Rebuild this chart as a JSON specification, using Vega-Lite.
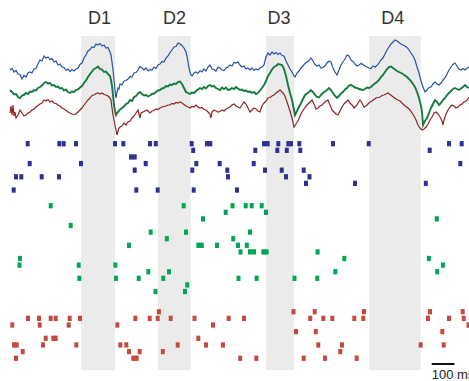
{
"$schema": "https://vega.github.io/schema/vega-lite/v6.json",
"width": 469, "height": 381, "padding": 0, "autosize": {"type": "none"},
"background": "white",
"config": {"view": {"stroke": null}},
"datasets": {
"bands": [
{"label":"D1","t0":81,"t1":115,"tc":99.5,"vtop":64,"vbot":-270,"vlab":76},
{"label":"D2","t0":158,"t1":190.7,"tc":174.6,"vtop":64,"vbot":-270,"vlab":76},
{"label":"D3","t0":266,"t1":294,"tc":279,"vtop":64,"vbot":-270,"vlab":76},
{"label":"D4","t0":369,"t1":420.7,"tc":392.8,"vtop":64,"vbot":-270,"vlab":76}
],
"traces": [
{"s":"b","t":10,"v":30},{"s":"b","t":12,"v":31.5},{"s":"b","t":14,"v":28},{"s":"b","t":16,"v":29.5},{"s":"b","t":18,"v":26},{"s":"b","t":20,"v":25.5},{"s":"b","t":22,"v":21},{"s":"b","t":24,"v":24.5},{"s":"b","t":26,"v":23},{"s":"b","t":28,"v":27},{"s":"b","t":30,"v":28},{"s":"b","t":32,"v":27},{"s":"b","t":34,"v":31},{"s":"b","t":36,"v":31.5},{"s":"b","t":38,"v":36},{"s":"b","t":40,"v":40},{"s":"b","t":42,"v":39},{"s":"b","t":44,"v":44},{"s":"b","t":46,"v":42},{"s":"b","t":48,"v":43},{"s":"b","t":50,"v":40.5},{"s":"b","t":52,"v":41.5},{"s":"b","t":54,"v":38},{"s":"b","t":56,"v":39},{"s":"b","t":58,"v":35},{"s":"b","t":60,"v":36},{"s":"b","t":62,"v":33},{"s":"b","t":64,"v":32.5},{"s":"b","t":66,"v":29.5},{"s":"b","t":68,"v":31},{"s":"b","t":70,"v":28.5},{"s":"b","t":72,"v":30.5},{"s":"b","t":74,"v":29},{"s":"b","t":76,"v":31},{"s":"b","t":78,"v":32},{"s":"b","t":80,"v":35.5},{"s":"b","t":82,"v":37},{"s":"b","t":84,"v":42},{"s":"b","t":86,"v":45},{"s":"b","t":88,"v":49},{"s":"b","t":90,"v":50.5},{"s":"b","t":92,"v":53},{"s":"b","t":94,"v":52.5},{"s":"b","t":96,"v":56},{"s":"b","t":98,"v":55},{"s":"b","t":100,"v":56.5},{"s":"b","t":102,"v":54},{"s":"b","t":104,"v":55},{"s":"b","t":106,"v":52},{"s":"b","t":108,"v":52.5},{"s":"b","t":110,"v":48},{"s":"b","t":111,"v":45},{"s":"b","t":112,"v":38},{"s":"b","t":113,"v":30},{"s":"b","t":114,"v":20},{"s":"b","t":115,"v":10},{"s":"b","t":116,"v":2},{"s":"b","t":117,"v":8},{"s":"b","t":118,"v":12},{"s":"b","t":119,"v":11},{"s":"b","t":120,"v":16},{"s":"b","t":122,"v":15},{"s":"b","t":124,"v":19},{"s":"b","t":126,"v":19.5},{"s":"b","t":128,"v":21},{"s":"b","t":130,"v":23.5},{"s":"b","t":132,"v":23},{"s":"b","t":134,"v":27},{"s":"b","t":136,"v":27.5},{"s":"b","t":138,"v":30},{"s":"b","t":140,"v":33.5},{"s":"b","t":142,"v":32},{"s":"b","t":144,"v":30},{"s":"b","t":146,"v":32},{"s":"b","t":148,"v":29},{"s":"b","t":150,"v":30.5},{"s":"b","t":152,"v":30},{"s":"b","t":154,"v":33},{"s":"b","t":156,"v":31.5},{"s":"b","t":158,"v":35},{"s":"b","t":160,"v":36},{"s":"b","t":162,"v":38.5},{"s":"b","t":164,"v":38},{"s":"b","t":166,"v":42},{"s":"b","t":168,"v":44},{"s":"b","t":170,"v":47.5},{"s":"b","t":172,"v":50},{"s":"b","t":174,"v":53},{"s":"b","t":176,"v":53.5},{"s":"b","t":178,"v":57},{"s":"b","t":180,"v":56},{"s":"b","t":182,"v":54.5},{"s":"b","t":184,"v":52},{"s":"b","t":186,"v":48},{"s":"b","t":187,"v":44},{"s":"b","t":188,"v":38},{"s":"b","t":189,"v":32},{"s":"b","t":190,"v":28},{"s":"b","t":191,"v":25},{"s":"b","t":192,"v":24},{"s":"b","t":194,"v":27},{"s":"b","t":196,"v":28},{"s":"b","t":198,"v":26.5},{"s":"b","t":200,"v":29.5},{"s":"b","t":202,"v":28},{"s":"b","t":204,"v":31},{"s":"b","t":206,"v":29},{"s":"b","t":208,"v":33},{"s":"b","t":210,"v":35},{"s":"b","t":212,"v":31},{"s":"b","t":214,"v":30.5},{"s":"b","t":216,"v":29},{"s":"b","t":218,"v":33},{"s":"b","t":220,"v":32},{"s":"b","t":222,"v":30},{"s":"b","t":224,"v":29.5},{"s":"b","t":226,"v":32},{"s":"b","t":228,"v":33},{"s":"b","t":230,"v":35},{"s":"b","t":232,"v":34},{"s":"b","t":234,"v":37.5},{"s":"b","t":236,"v":37},{"s":"b","t":238,"v":38},{"s":"b","t":240,"v":35},{"s":"b","t":242,"v":33},{"s":"b","t":244,"v":34},{"s":"b","t":246,"v":31},{"s":"b","t":248,"v":32},{"s":"b","t":250,"v":30},{"s":"b","t":252,"v":32},{"s":"b","t":254,"v":29.5},{"s":"b","t":256,"v":31},{"s":"b","t":258,"v":30},{"s":"b","t":260,"v":32},{"s":"b","t":262,"v":33},{"s":"b","t":264,"v":35},{"s":"b","t":266,"v":43},{"s":"b","t":268,"v":47},{"s":"b","t":270,"v":45},{"s":"b","t":272,"v":48},{"s":"b","t":274,"v":46},{"s":"b","t":276,"v":47.5},{"s":"b","t":278,"v":45.5},{"s":"b","t":280,"v":47},{"s":"b","t":282,"v":44.5},{"s":"b","t":284,"v":44},{"s":"b","t":286,"v":39},{"s":"b","t":288,"v":35},{"s":"b","t":290,"v":31},{"s":"b","t":292,"v":28},{"s":"b","t":294,"v":24},{"s":"b","t":295,"v":23},{"s":"b","t":297,"v":27},{"s":"b","t":299,"v":29},{"s":"b","t":301,"v":32},{"s":"b","t":303,"v":34},{"s":"b","t":305,"v":36.5},{"s":"b","t":307,"v":38},{"s":"b","t":309,"v":39.5},{"s":"b","t":311,"v":42},{"s":"b","t":313,"v":39},{"s":"b","t":315,"v":35.5},{"s":"b","t":317,"v":34},{"s":"b","t":319,"v":35},{"s":"b","t":321,"v":32},{"s":"b","t":323,"v":32.5},{"s":"b","t":325,"v":34},{"s":"b","t":327,"v":37},{"s":"b","t":329,"v":39},{"s":"b","t":331,"v":38},{"s":"b","t":333,"v":32},{"s":"b","t":335,"v":28},{"s":"b","t":337,"v":25},{"s":"b","t":339,"v":30},{"s":"b","t":341,"v":35},{"s":"b","t":343,"v":38},{"s":"b","t":345,"v":41},{"s":"b","t":347,"v":45},{"s":"b","t":349,"v":44},{"s":"b","t":351,"v":40},{"s":"b","t":353,"v":38.5},{"s":"b","t":355,"v":36},{"s":"b","t":357,"v":34},{"s":"b","t":359,"v":35},{"s":"b","t":361,"v":36.5},{"s":"b","t":363,"v":35.5},{"s":"b","t":365,"v":34},{"s":"b","t":367,"v":33},{"s":"b","t":369,"v":32},{"s":"b","t":371,"v":31.5},{"s":"b","t":373,"v":34},{"s":"b","t":375,"v":33},{"s":"b","t":377,"v":34.5},{"s":"b","t":379,"v":37},{"s":"b","t":381,"v":40},{"s":"b","t":383,"v":42},{"s":"b","t":385,"v":46},{"s":"b","t":387,"v":50},{"s":"b","t":389,"v":53},{"s":"b","t":391,"v":56},{"s":"b","t":393,"v":58},{"s":"b","t":395,"v":60},{"s":"b","t":397,"v":59},{"s":"b","t":399,"v":57.5},{"s":"b","t":401,"v":56},{"s":"b","t":403,"v":55},{"s":"b","t":405,"v":54},{"s":"b","t":407,"v":52.5},{"s":"b","t":409,"v":50},{"s":"b","t":411,"v":47},{"s":"b","t":413,"v":44},{"s":"b","t":415,"v":40},{"s":"b","t":417,"v":33},{"s":"b","t":419,"v":27},{"s":"b","t":421,"v":19},{"s":"b","t":423,"v":13},{"s":"b","t":425,"v":8},{"s":"b","t":427,"v":10},{"s":"b","t":429,"v":12.5},{"s":"b","t":431,"v":13},{"s":"b","t":433,"v":16},{"s":"b","t":435,"v":18},{"s":"b","t":437,"v":16},{"s":"b","t":439,"v":15},{"s":"b","t":441,"v":17},{"s":"b","t":443,"v":20},{"s":"b","t":445,"v":22},{"s":"b","t":447,"v":26},{"s":"b","t":449,"v":30},{"s":"b","t":451,"v":33},{"s":"b","t":453,"v":35.5},{"s":"b","t":455,"v":37},{"s":"b","t":457,"v":34},{"s":"b","t":459,"v":31},{"s":"b","t":461,"v":30},{"s":"b","t":463,"v":31.5},{"s":"b","t":465,"v":30},{"s":"b","t":467,"v":32},{"s":"b","t":469,"v":33},
{"s":"g","t":10,"v":10},{"s":"g","t":12,"v":8},{"s":"g","t":14,"v":5.5},{"s":"g","t":16,"v":6},{"s":"g","t":18,"v":3},{"s":"g","t":20,"v":2},{"s":"g","t":22,"v":4.5},{"s":"g","t":24,"v":5},{"s":"g","t":26,"v":7},{"s":"g","t":28,"v":6},{"s":"g","t":30,"v":8.5},{"s":"g","t":32,"v":8},{"s":"g","t":34,"v":10},{"s":"g","t":36,"v":9.5},{"s":"g","t":38,"v":12},{"s":"g","t":40,"v":13},{"s":"g","t":42,"v":14.5},{"s":"g","t":44,"v":17},{"s":"g","t":46,"v":18},{"s":"g","t":48,"v":16.5},{"s":"g","t":50,"v":17},{"s":"g","t":52,"v":14.5},{"s":"g","t":54,"v":15},{"s":"g","t":56,"v":13},{"s":"g","t":58,"v":13.5},{"s":"g","t":60,"v":11.5},{"s":"g","t":62,"v":12},{"s":"g","t":64,"v":9.5},{"s":"g","t":66,"v":10.5},{"s":"g","t":68,"v":8},{"s":"g","t":70,"v":7},{"s":"g","t":72,"v":8.5},{"s":"g","t":74,"v":8},{"s":"g","t":76,"v":10},{"s":"g","t":78,"v":10.5},{"s":"g","t":80,"v":12.5},{"s":"g","t":82,"v":14},{"s":"g","t":84,"v":17},{"s":"g","t":86,"v":19.5},{"s":"g","t":88,"v":23},{"s":"g","t":90,"v":26},{"s":"g","t":92,"v":28.5},{"s":"g","t":94,"v":31},{"s":"g","t":96,"v":32},{"s":"g","t":98,"v":33.5},{"s":"g","t":100,"v":31},{"s":"g","t":102,"v":30.5},{"s":"g","t":104,"v":28},{"s":"g","t":106,"v":28.5},{"s":"g","t":108,"v":26},{"s":"g","t":110,"v":24},{"s":"g","t":111,"v":20},{"s":"g","t":112,"v":14},{"s":"g","t":113,"v":5},{"s":"g","t":114,"v":-5},{"s":"g","t":115,"v":-11},{"s":"g","t":116,"v":-15},{"s":"g","t":117,"v":-13},{"s":"g","t":118,"v":-12},{"s":"g","t":120,"v":-9.5},{"s":"g","t":122,"v":-8},{"s":"g","t":124,"v":-6.5},{"s":"g","t":126,"v":-4},{"s":"g","t":128,"v":-3},{"s":"g","t":130,"v":0},{"s":"g","t":132,"v":-1},{"s":"g","t":134,"v":3},{"s":"g","t":136,"v":4},{"s":"g","t":138,"v":6.5},{"s":"g","t":140,"v":8},{"s":"g","t":142,"v":6},{"s":"g","t":144,"v":4.5},{"s":"g","t":146,"v":5},{"s":"g","t":148,"v":3.5},{"s":"g","t":150,"v":4.5},{"s":"g","t":152,"v":6},{"s":"g","t":154,"v":6.5},{"s":"g","t":156,"v":8},{"s":"g","t":158,"v":9.5},{"s":"g","t":160,"v":10},{"s":"g","t":162,"v":11.5},{"s":"g","t":164,"v":12},{"s":"g","t":166,"v":14},{"s":"g","t":168,"v":13.5},{"s":"g","t":170,"v":15.5},{"s":"g","t":172,"v":15},{"s":"g","t":174,"v":16.5},{"s":"g","t":176,"v":16},{"s":"g","t":178,"v":18},{"s":"g","t":180,"v":18.5},{"s":"g","t":182,"v":16},{"s":"g","t":184,"v":12},{"s":"g","t":186,"v":8},{"s":"g","t":188,"v":7},{"s":"g","t":190,"v":6},{"s":"g","t":192,"v":7.5},{"s":"g","t":194,"v":7},{"s":"g","t":196,"v":9},{"s":"g","t":198,"v":10.5},{"s":"g","t":200,"v":12},{"s":"g","t":202,"v":11},{"s":"g","t":204,"v":13},{"s":"g","t":206,"v":11.5},{"s":"g","t":208,"v":14},{"s":"g","t":210,"v":15},{"s":"g","t":212,"v":13.5},{"s":"g","t":214,"v":14},{"s":"g","t":216,"v":12},{"s":"g","t":218,"v":11},{"s":"g","t":220,"v":10},{"s":"g","t":222,"v":12.5},{"s":"g","t":224,"v":11},{"s":"g","t":226,"v":12.5},{"s":"g","t":228,"v":10},{"s":"g","t":230,"v":10.5},{"s":"g","t":232,"v":12},{"s":"g","t":234,"v":11},{"s":"g","t":236,"v":13},{"s":"g","t":238,"v":11.5},{"s":"g","t":240,"v":10},{"s":"g","t":242,"v":10.5},{"s":"g","t":244,"v":9},{"s":"g","t":246,"v":9.5},{"s":"g","t":248,"v":8},{"s":"g","t":250,"v":8.5},{"s":"g","t":252,"v":7},{"s":"g","t":254,"v":8},{"s":"g","t":256,"v":6},{"s":"g","t":258,"v":7},{"s":"g","t":260,"v":9.5},{"s":"g","t":262,"v":12},{"s":"g","t":264,"v":15},{"s":"g","t":266,"v":19},{"s":"g","t":268,"v":24},{"s":"g","t":270,"v":27},{"s":"g","t":272,"v":30.5},{"s":"g","t":274,"v":33},{"s":"g","t":276,"v":34},{"s":"g","t":278,"v":36},{"s":"g","t":280,"v":35.5},{"s":"g","t":282,"v":35},{"s":"g","t":284,"v":31},{"s":"g","t":286,"v":24},{"s":"g","t":288,"v":15},{"s":"g","t":290,"v":7},{"s":"g","t":292,"v":0},{"s":"g","t":294,"v":-10},{"s":"g","t":295,"v":-15},{"s":"g","t":297,"v":-11},{"s":"g","t":299,"v":-7},{"s":"g","t":301,"v":-3},{"s":"g","t":303,"v":1},{"s":"g","t":305,"v":5},{"s":"g","t":307,"v":6.5},{"s":"g","t":309,"v":8},{"s":"g","t":311,"v":10},{"s":"g","t":313,"v":8},{"s":"g","t":315,"v":5},{"s":"g","t":317,"v":3},{"s":"g","t":319,"v":2.5},{"s":"g","t":321,"v":5},{"s":"g","t":323,"v":7},{"s":"g","t":325,"v":8.5},{"s":"g","t":327,"v":10},{"s":"g","t":329,"v":12},{"s":"g","t":331,"v":10},{"s":"g","t":333,"v":7},{"s":"g","t":335,"v":4},{"s":"g","t":337,"v":2},{"s":"g","t":339,"v":4},{"s":"g","t":341,"v":6.5},{"s":"g","t":343,"v":8},{"s":"g","t":345,"v":10.5},{"s":"g","t":347,"v":12},{"s":"g","t":349,"v":14.5},{"s":"g","t":351,"v":15},{"s":"g","t":353,"v":14},{"s":"g","t":355,"v":12.5},{"s":"g","t":357,"v":12},{"s":"g","t":359,"v":11},{"s":"g","t":361,"v":10.5},{"s":"g","t":363,"v":10},{"s":"g","t":365,"v":11},{"s":"g","t":367,"v":12.5},{"s":"g","t":369,"v":12},{"s":"g","t":371,"v":13},{"s":"g","t":373,"v":15},{"s":"g","t":375,"v":16.5},{"s":"g","t":377,"v":18},{"s":"g","t":379,"v":20},{"s":"g","t":381,"v":23},{"s":"g","t":383,"v":25},{"s":"g","t":385,"v":28},{"s":"g","t":387,"v":31},{"s":"g","t":389,"v":33},{"s":"g","t":391,"v":33.5},{"s":"g","t":393,"v":32},{"s":"g","t":395,"v":30.5},{"s":"g","t":397,"v":29},{"s":"g","t":399,"v":28},{"s":"g","t":401,"v":27},{"s":"g","t":403,"v":26},{"s":"g","t":405,"v":24.5},{"s":"g","t":407,"v":23},{"s":"g","t":409,"v":21},{"s":"g","t":411,"v":19},{"s":"g","t":413,"v":16},{"s":"g","t":415,"v":13},{"s":"g","t":417,"v":8},{"s":"g","t":419,"v":2},{"s":"g","t":421,"v":-6},{"s":"g","t":422,"v":-12},{"s":"g","t":423,"v":-25},{"s":"g","t":425,"v":-21},{"s":"g","t":427,"v":-18},{"s":"g","t":429,"v":-13},{"s":"g","t":431,"v":-8},{"s":"g","t":433,"v":-4},{"s":"g","t":435,"v":0},{"s":"g","t":437,"v":-2},{"s":"g","t":439,"v":-5},{"s":"g","t":441,"v":-3},{"s":"g","t":443,"v":0},{"s":"g","t":445,"v":2},{"s":"g","t":447,"v":5},{"s":"g","t":449,"v":7},{"s":"g","t":451,"v":9},{"s":"g","t":453,"v":11},{"s":"g","t":455,"v":12},{"s":"g","t":457,"v":11},{"s":"g","t":459,"v":10},{"s":"g","t":461,"v":11.5},{"s":"g","t":463,"v":13},{"s":"g","t":465,"v":15},{"s":"g","t":467,"v":13},{"s":"g","t":469,"v":12},
{"s":"r","t":10,"v":-13},{"s":"r","t":11,"v":-6},{"s":"r","t":12,"v":-15},{"s":"r","t":13,"v":-5},{"s":"r","t":14,"v":-16},{"s":"r","t":15,"v":-12},{"s":"r","t":16,"v":-18},{"s":"r","t":18,"v":-15},{"s":"r","t":20,"v":-10},{"s":"r","t":22,"v":-13},{"s":"r","t":24,"v":-16},{"s":"r","t":26,"v":-15},{"s":"r","t":28,"v":-13},{"s":"r","t":30,"v":-12},{"s":"r","t":32,"v":-10},{"s":"r","t":34,"v":-9},{"s":"r","t":36,"v":-7},{"s":"r","t":38,"v":-5.5},{"s":"r","t":40,"v":-4},{"s":"r","t":42,"v":-3},{"s":"r","t":44,"v":0},{"s":"r","t":46,"v":-1},{"s":"r","t":48,"v":0.5},{"s":"r","t":50,"v":-2},{"s":"r","t":52,"v":-1},{"s":"r","t":54,"v":-3},{"s":"r","t":56,"v":-3.5},{"s":"r","t":58,"v":-5},{"s":"r","t":60,"v":-6},{"s":"r","t":62,"v":-8},{"s":"r","t":64,"v":-9},{"s":"r","t":66,"v":-10.5},{"s":"r","t":68,"v":-12},{"s":"r","t":70,"v":-13},{"s":"r","t":72,"v":-14},{"s":"r","t":74,"v":-14.5},{"s":"r","t":76,"v":-14},{"s":"r","t":78,"v":-12},{"s":"r","t":80,"v":-10},{"s":"r","t":82,"v":-8},{"s":"r","t":84,"v":-5},{"s":"r","t":86,"v":-2.5},{"s":"r","t":88,"v":0},{"s":"r","t":90,"v":2},{"s":"r","t":92,"v":4.5},{"s":"r","t":94,"v":5},{"s":"r","t":96,"v":6.5},{"s":"r","t":98,"v":7},{"s":"r","t":100,"v":6},{"s":"r","t":102,"v":7},{"s":"r","t":104,"v":5.5},{"s":"r","t":106,"v":5},{"s":"r","t":108,"v":4},{"s":"r","t":110,"v":2},{"s":"r","t":111,"v":0},{"s":"r","t":112,"v":-8},{"s":"r","t":113,"v":-15},{"s":"r","t":114,"v":-20},{"s":"r","t":115,"v":-25},{"s":"r","t":116,"v":-30},{"s":"r","t":117,"v":-35},{"s":"r","t":118,"v":-31},{"s":"r","t":119,"v":-28},{"s":"r","t":120,"v":-27},{"s":"r","t":122,"v":-26},{"s":"r","t":124,"v":-23},{"s":"r","t":126,"v":-25},{"s":"r","t":128,"v":-22},{"s":"r","t":130,"v":-21},{"s":"r","t":132,"v":-18},{"s":"r","t":134,"v":-16},{"s":"r","t":136,"v":-13},{"s":"r","t":138,"v":-10},{"s":"r","t":139,"v":-14},{"s":"r","t":140,"v":-18},{"s":"r","t":141,"v":-13},{"s":"r","t":143,"v":-12},{"s":"r","t":145,"v":-11},{"s":"r","t":147,"v":-10},{"s":"r","t":149,"v":-12},{"s":"r","t":150,"v":-13},{"s":"r","t":152,"v":-11},{"s":"r","t":154,"v":-10.5},{"s":"r","t":156,"v":-9},{"s":"r","t":158,"v":-9.5},{"s":"r","t":160,"v":-8},{"s":"r","t":162,"v":-7},{"s":"r","t":164,"v":-6.5},{"s":"r","t":166,"v":-6},{"s":"r","t":168,"v":-5},{"s":"r","t":170,"v":-5},{"s":"r","t":172,"v":-3.5},{"s":"r","t":174,"v":-4},{"s":"r","t":176,"v":-2.5},{"s":"r","t":178,"v":-3},{"s":"r","t":180,"v":-2},{"s":"r","t":182,"v":-3},{"s":"r","t":184,"v":-4.5},{"s":"r","t":186,"v":-6},{"s":"r","t":188,"v":-7},{"s":"r","t":190,"v":-8},{"s":"r","t":192,"v":-6.5},{"s":"r","t":194,"v":-7},{"s":"r","t":196,"v":-5},{"s":"r","t":198,"v":-7},{"s":"r","t":200,"v":-8},{"s":"r","t":202,"v":-7.5},{"s":"r","t":204,"v":-9.5},{"s":"r","t":206,"v":-10},{"s":"r","t":208,"v":-12},{"s":"r","t":210,"v":-14},{"s":"r","t":211,"v":-18},{"s":"r","t":212,"v":-12},{"s":"r","t":214,"v":-10},{"s":"r","t":216,"v":-11},{"s":"r","t":218,"v":-12},{"s":"r","t":220,"v":-11.5},{"s":"r","t":222,"v":-10},{"s":"r","t":224,"v":-11},{"s":"r","t":226,"v":-9},{"s":"r","t":228,"v":-8},{"s":"r","t":230,"v":-7},{"s":"r","t":232,"v":-5},{"s":"r","t":234,"v":-4},{"s":"r","t":236,"v":-6},{"s":"r","t":238,"v":-7},{"s":"r","t":240,"v":-8},{"s":"r","t":242,"v":-5},{"s":"r","t":244,"v":-2},{"s":"r","t":246,"v":-4},{"s":"r","t":248,"v":-8},{"s":"r","t":250,"v":-12},{"s":"r","t":252,"v":-10},{"s":"r","t":254,"v":-8},{"s":"r","t":256,"v":-9},{"s":"r","t":258,"v":-11},{"s":"r","t":260,"v":-12},{"s":"r","t":262,"v":-6},{"s":"r","t":264,"v":-3},{"s":"r","t":266,"v":-1},{"s":"r","t":268,"v":2},{"s":"r","t":270,"v":2.5},{"s":"r","t":272,"v":4},{"s":"r","t":274,"v":5},{"s":"r","t":276,"v":7},{"s":"r","t":278,"v":8.5},{"s":"r","t":280,"v":10},{"s":"r","t":282,"v":8},{"s":"r","t":284,"v":6},{"s":"r","t":286,"v":1},{"s":"r","t":288,"v":-5},{"s":"r","t":290,"v":-11},{"s":"r","t":292,"v":-18},{"s":"r","t":294,"v":-27},{"s":"r","t":296,"v":-24},{"s":"r","t":298,"v":-21},{"s":"r","t":300,"v":-16},{"s":"r","t":302,"v":-12},{"s":"r","t":304,"v":-9},{"s":"r","t":306,"v":-6},{"s":"r","t":308,"v":-4},{"s":"r","t":310,"v":-2},{"s":"r","t":312,"v":0},{"s":"r","t":314,"v":-4},{"s":"r","t":316,"v":-9},{"s":"r","t":318,"v":-8},{"s":"r","t":320,"v":-6},{"s":"r","t":322,"v":-5},{"s":"r","t":324,"v":-3},{"s":"r","t":326,"v":-1},{"s":"r","t":328,"v":0},{"s":"r","t":330,"v":-5},{"s":"r","t":332,"v":-10},{"s":"r","t":334,"v":-12},{"s":"r","t":336,"v":-14},{"s":"r","t":338,"v":-15},{"s":"r","t":340,"v":-11},{"s":"r","t":342,"v":-7},{"s":"r","t":344,"v":-4},{"s":"r","t":346,"v":-2},{"s":"r","t":348,"v":0},{"s":"r","t":350,"v":-3},{"s":"r","t":352,"v":-5},{"s":"r","t":354,"v":-8},{"s":"r","t":356,"v":-6},{"s":"r","t":358,"v":-3},{"s":"r","t":360,"v":0},{"s":"r","t":362,"v":-3},{"s":"r","t":364,"v":-7},{"s":"r","t":366,"v":-6},{"s":"r","t":368,"v":-4},{"s":"r","t":370,"v":-2},{"s":"r","t":372,"v":-1},{"s":"r","t":374,"v":0.5},{"s":"r","t":376,"v":2},{"s":"r","t":378,"v":2.5},{"s":"r","t":380,"v":3},{"s":"r","t":382,"v":4.5},{"s":"r","t":384,"v":5},{"s":"r","t":386,"v":6},{"s":"r","t":388,"v":7},{"s":"r","t":390,"v":5.5},{"s":"r","t":392,"v":4},{"s":"r","t":394,"v":2.5},{"s":"r","t":396,"v":1},{"s":"r","t":398,"v":0},{"s":"r","t":400,"v":-1},{"s":"r","t":402,"v":-3},{"s":"r","t":404,"v":-5},{"s":"r","t":406,"v":-6.5},{"s":"r","t":408,"v":-8},{"s":"r","t":410,"v":-10},{"s":"r","t":412,"v":-13},{"s":"r","t":414,"v":-16},{"s":"r","t":416,"v":-20},{"s":"r","t":418,"v":-25},{"s":"r","t":420,"v":-28},{"s":"r","t":422,"v":-30},{"s":"r","t":424,"v":-29},{"s":"r","t":426,"v":-27},{"s":"r","t":428,"v":-24},{"s":"r","t":430,"v":-20},{"s":"r","t":432,"v":-17},{"s":"r","t":434,"v":-13},{"s":"r","t":436,"v":-12},{"s":"r","t":438,"v":-14},{"s":"r","t":440,"v":-17},{"s":"r","t":442,"v":-21},{"s":"r","t":443,"v":-25},{"s":"r","t":444,"v":-20},{"s":"r","t":446,"v":-14},{"s":"r","t":448,"v":-10},{"s":"r","t":450,"v":-7},{"s":"r","t":452,"v":-5},{"s":"r","t":454,"v":-6},{"s":"r","t":456,"v":-8},{"s":"r","t":458,"v":-7},{"s":"r","t":460,"v":-5},{"s":"r","t":462,"v":-4},{"s":"r","t":464,"v":-2},{"s":"r","t":466,"v":-1},{"s":"r","t":468,"v":1},{"s":"r","t":469,"v":3}
],
"spB": [
{"trial":0,"t":27.7},{"trial":0,"t":59.3},{"trial":0,"t":63.7},{"trial":0,"t":76},{"trial":0,"t":115},{"trial":0,"t":123.3},{"trial":0,"t":150},{"trial":0,"t":155.8},{"trial":0,"t":191.7},{"trial":0,"t":207},{"trial":0,"t":210.3},{"trial":0,"t":264},{"trial":0,"t":267.7},{"trial":0,"t":278.3},{"trial":0,"t":288.3},{"trial":0,"t":291},{"trial":0,"t":299.3},{"trial":0,"t":333},{"trial":0,"t":368.7},{"trial":0,"t":449},{"trial":0,"t":461.7},
{"trial":1,"t":193.2},{"trial":1,"t":255.3},{"trial":1,"t":277.3},{"trial":1,"t":286.8},{"trial":1,"t":300.3},{"trial":1,"t":429.7},
{"trial":2,"t":131},{"trial":2,"t":134.7},
{"trial":3,"t":29.7},{"trial":3,"t":81},{"trial":3,"t":145.7},{"trial":3,"t":196.3},{"trial":3,"t":219.7},{"trial":3,"t":253.7},{"trial":3,"t":460.3},
{"trial":4,"t":134.7},{"trial":4,"t":192.3},{"trial":4,"t":227.3},{"trial":4,"t":265},{"trial":4,"t":281.7},{"trial":4,"t":303.7},
{"trial":5,"t":16},{"trial":5,"t":21.3},{"trial":5,"t":41.7},{"trial":5,"t":59},{"trial":5,"t":228},{"trial":5,"t":286},{"trial":5,"t":309.5},
{"trial":6,"t":306},{"trial":6,"t":355},{"trial":6,"t":425.8},
{"trial":7,"t":13.7},{"trial":7,"t":136.3},{"trial":7,"t":157.7},{"trial":7,"t":193.7},{"trial":7,"t":237}
],
"spG": [
{"trial":0,"t":50.7},{"trial":0,"t":183.7},{"trial":0,"t":232.5},{"trial":0,"t":245.7},{"trial":0,"t":251.7},{"trial":0,"t":261.7},
{"trial":1,"t":225.7},{"trial":1,"t":266},
{"trial":2,"t":203},{"trial":2,"t":436.8},
{"trial":3,"t":70.7},
{"trial":4,"t":150.7},{"trial":4,"t":186},{"trial":4,"t":250},
{"trial":5,"t":166.8},{"trial":5,"t":233.2},
{"trial":6,"t":129},{"trial":6,"t":198.3},{"trial":6,"t":201.8},{"trial":6,"t":217},{"trial":6,"t":238},{"trial":6,"t":246.8},
{"trial":7,"t":240.5},{"trial":7,"t":250},{"trial":7,"t":254},{"trial":7,"t":263.3},{"trial":7,"t":266.7},{"trial":7,"t":317.6},
{"trial":8,"t":20},{"trial":8,"t":344.3},{"trial":8,"t":428.9},
{"trial":9,"t":19.5},{"trial":9,"t":78.7},{"trial":9,"t":115.3},{"trial":9,"t":443},
{"trial":10,"t":148.3},{"trial":10,"t":169},{"trial":10,"t":335.3},{"trial":10,"t":437.2},
{"trial":11,"t":79.3},{"trial":11,"t":116},{"trial":11,"t":138.7},{"trial":11,"t":163.3},{"trial":11,"t":238.5},{"trial":11,"t":256.7},{"trial":11,"t":294.5},{"trial":11,"t":317.3},
{"trial":12,"t":187.2},
{"trial":13,"t":155.5},{"trial":13,"t":185}
],
"spR": [
{"trial":0,"t":158.9},{"trial":0,"t":293.5},{"trial":0,"t":314.7},{"trial":0,"t":364},{"trial":0,"t":430},{"trial":0,"t":462.7},
{"trial":1,"t":28},{"trial":1,"t":39},{"trial":1,"t":50.7},{"trial":1,"t":55.7},{"trial":1,"t":69.7},{"trial":1,"t":80},{"trial":1,"t":135.3},{"trial":1,"t":149.7},{"trial":1,"t":157.7},{"trial":1,"t":170.7},{"trial":1,"t":194.5},{"trial":1,"t":228.7},{"trial":1,"t":244},{"trial":1,"t":310.2},{"trial":1,"t":323.3},{"trial":1,"t":332.3},{"trial":1,"t":354.3},{"trial":1,"t":363.3},{"trial":1,"t":428},{"trial":1,"t":449},{"trial":1,"t":463.7},
{"trial":2,"t":12.3},{"trial":2,"t":39.7},{"trial":2,"t":68.7},{"trial":2,"t":117.3},{"trial":2,"t":213},{"trial":2,"t":468.5},
{"trial":3,"t":296},{"trial":3,"t":315.8},{"trial":3,"t":442.3},
{"trial":4,"t":45.7},{"trial":4,"t":53.3},{"trial":4,"t":55.7},{"trial":4,"t":198.3},
{"trial":5,"t":14},{"trial":5,"t":16.7},{"trial":5,"t":43},{"trial":5,"t":76.3},{"trial":5,"t":120.3},{"trial":5,"t":126.3},{"trial":5,"t":177.7},{"trial":5,"t":206},{"trial":5,"t":223},{"trial":5,"t":318.3},{"trial":5,"t":342},{"trial":5,"t":420.7},{"trial":5,"t":443.7},
{"trial":6,"t":22.7},{"trial":6,"t":129},{"trial":6,"t":139.7},{"trial":6,"t":162.8},{"trial":6,"t":340.3},
{"trial":7,"t":16},{"trial":7,"t":133.3},{"trial":7,"t":136.7},{"trial":7,"t":240.2},{"trial":7,"t":256.3},{"trial":7,"t":303.7},{"trial":7,"t":325},{"trial":7,"t":356.7}
],
"bar": [{"t0":431.7,"t1":454.5,"vbar":-264,"vtxt":-279,"label":"100 ms"}]
},
"layer": [
{"data": {"name": "bands"}, "mark": {"type": "rect", "color": "#EBEBEB"},
 "encoding": {
  "x": {"field": "t0", "type": "quantitative", "scale": {"domain": [0, 469], "nice": false, "zero": false}, "axis": null},
  "x2": {"field": "t1"},
  "y": {"field": "vtop", "type": "quantitative", "scale": {"domain": [-281, 100], "nice": false, "zero": false}, "axis": null},
  "y2": {"field": "vbot"}
 }},
{"data": {"name": "bands"}, "mark": {"type": "text", "font": "Liberation Sans", "fontSize": 18, "color": "#333333", "align": "center", "baseline": "alphabetic"},
 "encoding": {
  "x": {"field": "tc", "type": "quantitative", "axis": null},
  "y": {"field": "vlab", "type": "quantitative", "scale": {"domain": [-281, 100], "nice": false, "zero": false}, "axis": null},
  "text": {"field": "label", "type": "nominal"}
 }},
{"data": {"name": "traces"}, "transform": [{"filter": "datum.s === 'b'"}], "mark": {"type": "line", "color": "#2452A8", "strokeWidth": 1.2},
 "encoding": {
  "x": {"field": "t", "type": "quantitative", "axis": null},
  "y": {"field": "v", "type": "quantitative", "scale": {"domain": [-281, 100], "nice": false, "zero": false}, "axis": null}
 }},
{"data": {"name": "traces"}, "transform": [{"filter": "datum.s === 'g'"}], "mark": {"type": "line", "color": "#167A3E", "strokeWidth": 1.9},
 "encoding": {
  "x": {"field": "t", "type": "quantitative", "axis": null},
  "y": {"field": "v", "type": "quantitative", "scale": {"domain": [-281, 100], "nice": false, "zero": false}, "axis": null}
 }},
{"data": {"name": "traces"}, "transform": [{"filter": "datum.s === 'r'"}], "mark": {"type": "line", "color": "#8E2424", "strokeWidth": 1.2},
 "encoding": {
  "x": {"field": "t", "type": "quantitative", "axis": null},
  "y": {"field": "v", "type": "quantitative", "scale": {"domain": [-281, 100], "nice": false, "zero": false}, "axis": null}
 }},
{"data": {"name": "bar"}, "mark": {"type": "rule", "color": "#111111", "strokeWidth": 2},
 "encoding": {
  "x": {"field": "t0", "type": "quantitative", "axis": null},
  "x2": {"field": "t1"},
  "y": {"field": "vbar", "type": "quantitative", "scale": {"domain": [-281, 100], "nice": false, "zero": false}, "axis": null}
 }},
{"data": {"name": "bar"}, "mark": {"type": "text", "font": "Liberation Sans", "fontSize": 13, "color": "#222222", "align": "left", "baseline": "alphabetic"},
 "encoding": {
  "x": {"field": "t0", "type": "quantitative", "axis": null},
  "y": {"field": "vtxt", "type": "quantitative", "scale": {"domain": [-281, 100], "nice": false, "zero": false}, "axis": null},
  "text": {"field": "label", "type": "nominal"}
 }},
{"data": {"name": "spB"}, "mark": {"type": "point", "shape": "M-0.75,-1H0.75V1H-0.75Z", "size": 28, "filled": true, "opacity": 1, "color": "#2E3192", "strokeWidth": 0},
 "encoding": {
  "x": {"field": "t", "type": "quantitative", "axis": null},
  "y": {"field": "trial", "type": "quantitative", "scale": {"domain": [-21.71, 35.85], "reverse": true, "nice": false, "zero": false}, "axis": null}
 }},
{"data": {"name": "spG"}, "mark": {"type": "point", "shape": "M-0.75,-1H0.75V1H-0.75Z", "size": 28, "filled": true, "opacity": 1, "color": "#00A651", "strokeWidth": 0},
 "encoding": {
  "x": {"field": "t", "type": "quantitative", "axis": null},
  "y": {"field": "trial", "type": "quantitative", "scale": {"domain": [-31.17, 26.56], "reverse": true, "nice": false, "zero": false}, "axis": null}
 }},
{"data": {"name": "spR"}, "mark": {"type": "point", "shape": "M-0.75,-1H0.75V1H-0.75Z", "size": 28, "filled": true, "opacity": 1, "color": "#C8473F", "strokeWidth": 0},
 "encoding": {
  "x": {"field": "t", "type": "quantitative", "axis": null},
  "y": {"field": "trial", "type": "quantitative", "scale": {"domain": [-46.87, 10.42], "reverse": true, "nice": false, "zero": false}, "axis": null}
 }}
],
"resolve": {"scale": {"y": "independent"}}
}
